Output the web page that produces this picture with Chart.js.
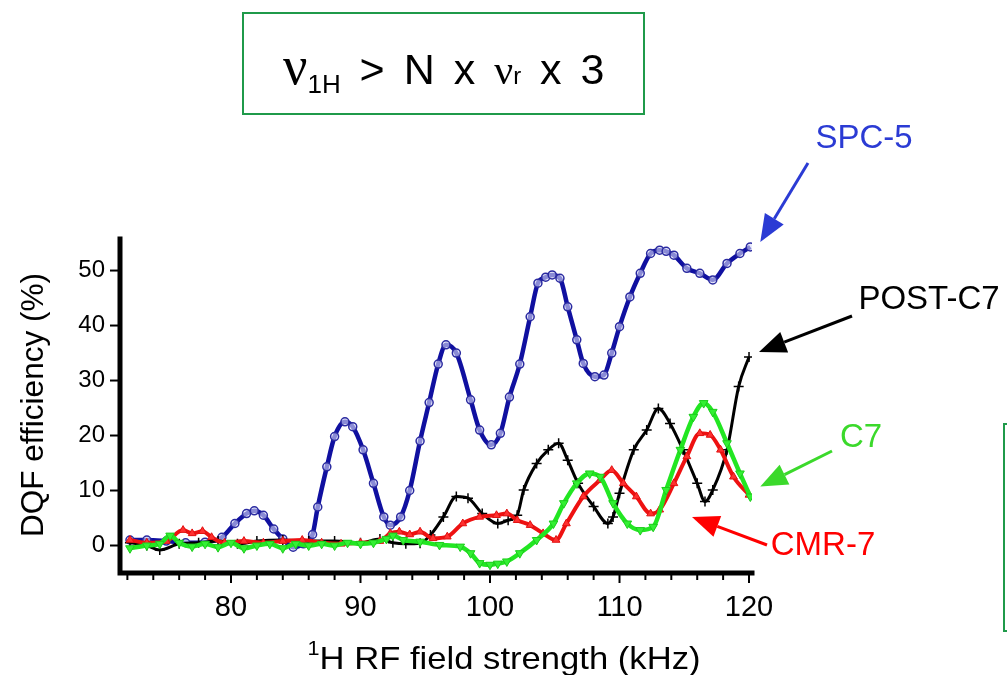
<!DOCTYPE html>
<html>
<head>
<meta charset="utf-8">
<script src="https://cdn.jsdelivr.net/npm/chart.js@4.4.1/dist/chart.umd.min.js"></script>
<style>
  body { margin: 0; background: #fff; }
  #wrap { position: relative; width: 1007px; height: 675px; }
  #title-box {
    position: absolute; left: 242px; top: 12px; width: 399px; height: 99px;
    border: 2px solid #1f9a4a;
  }
  #title-text {
    position: absolute; left: 283px; top: 39px; white-space: nowrap; line-height: 1;
    font-family: 'Liberation Sans', Arial, sans-serif; font-size: 43px; color: #000;
    word-spacing: 7px;
  }
  #title-text .nu { font-family: 'Liberation Serif', serif; }
  #title-text .sub { font-size: 26px; position: relative; top: 9px; }
  #side-box {
    position: absolute; left: 1003px; top: 423px; width: 20px; height: 205px;
    border: 2px solid #1f9a4a;
  }
</style>
</head>
<body>
<div id="wrap">
  <canvas id="chart"></canvas>
  <div id="title-box"></div>
  <div id="title-text"><span class="nu" style="font-size:54px">ν</span><span class="sub">1H</span> &gt; N x <span class="nu" style="font-size:42px">ν</span><span style="font-size:24px">r</span> x 3</div>
  <div id="side-box"></div>
</div>
<script>
// 1H RF field strength (kHz) and DQF efficiency (%) per sequence
const spcKHz = [72.2, 73.5, 75, 76.5, 78, 79.3, 80.3, 81.2, 81.8, 82.5, 83.3, 84, 84.8, 85.6, 86.3, 86.7, 87.4, 88, 88.8, 89.4, 90.2, 91, 91.8, 92.3, 93.1, 93.8, 94.6, 95.3, 96, 96.6, 97.4, 98.5, 99.2, 100.1, 100.8, 101.5, 102.3, 103.1, 103.7, 104.3, 104.8, 105.4, 106, 106.7, 107.2, 108.1, 108.8, 109.4, 110, 110.8, 111.6, 112.4, 113.1, 113.6, 114.2, 115.2, 116.2, 117.2, 118.3, 119.3, 120.1];
const spcEff = [1, 1, 0.8, 0.5, 0.6, 1.5, 4, 5.8, 6.3, 5.5, 3, 1.2, -0.3, 0.3, 2, 7, 14.3, 19.8, 22.5, 21.6, 17.4, 11.3, 5.2, 3.7, 5.2, 10, 19, 26, 33, 36.5, 35, 26.5, 21, 18.3, 20.4, 27, 33, 41.6, 47.7, 48.8, 49.2, 48.6, 43.4, 37.4, 33.1, 30.7, 31, 35, 39.8, 45.2, 49.5, 53.1, 53.7, 53.5, 52.8, 50.4, 49.5, 48.3, 51.3, 53.1, 54.3];

const postKHz = [72.2, 73.5, 74.5, 76, 77.5, 79, 80.5, 82, 84, 86, 88, 90, 91.5, 92.5, 93.5, 94.6, 95.4, 96.4, 97.4, 98.3, 99.4, 100.6, 101.4, 102.1, 102.6, 103.6, 104.5, 105.3, 106, 106.8, 108, 109.1, 109.5, 110, 111.1, 112.1, 113, 113.9, 114.9, 116, 116.6, 117.2, 118.3, 119.2, 120];
const postEff = [0.5, 0, -0.8, 0.3, 0.5, 0.8, 0.3, 0.8, 1, 0.8, 0.8, 0.5, 1.2, 0.5, 0.3, 0.4, 1.9, 5.2, 8.9, 8.6, 5.8, 4, 4.6, 5.5, 10.1, 14.9, 17.4, 18.6, 15.5, 11.3, 7.1, 4, 5.2, 9.5, 17.4, 21, 24.9, 22.2, 17.4, 11.3, 8, 10.1, 17.4, 28.9, 34.3];

const cmrKHz = [72.2, 73.5, 75, 76.3, 77, 77.8, 78.5, 79.5, 81, 82.5, 84, 85.5, 87, 88.5, 90, 91.5, 92.3, 93, 93.8, 94.6, 95.6, 96.7, 97.9, 99.2, 100.5, 101.3, 102.1, 103.1, 104.1, 105.1, 105.9, 107.2, 108.5, 109.4, 110.3, 111.3, 112.4, 113.1, 114.2, 115.2, 116.2, 117, 117.8, 118.8, 120];
const cmrEff = [1, 0.5, 0.8, 2.8, 2.2, 2.6, 1.5, 0.5, 0.8, 0.5, 0.8, 1, 0.5, 0.3, 0.5, 0.8, 2.2, 2.5, 2, 2.5, 1.3, 1.6, 4, 5.2, 5.5, 5.8, 4.6, 3.7, 2.2, 1, 4, 8.9, 11.9, 13.7, 11.3, 8.9, 5.8, 6.5, 11.3, 16.2, 20.4, 20.1, 17.4, 12.5, 9.2];

const c7KHz = [72.2, 73.5, 74.5, 75.3, 76, 77, 78, 79, 80, 81, 82, 83, 84, 85, 86, 87, 88, 89, 90, 91, 92, 92.5, 93.3, 94.6, 96.1, 97.7, 98.5, 99.2, 100, 100.6, 101.3, 102.3, 103.6, 104.9, 105.7, 106.7, 107.7, 108.5, 109.5, 110.6, 111.6, 112.6, 113.6, 114.7, 115.7, 116.5, 117.2, 118.3, 119.3, 120.1];
const c7Eff = [-0.5, 0, 0.3, 1.8, 0.5, -0.2, 0.3, -0.3, 0.5, -0.5, 0, 0.3, -0.5, 0.3, 0, 0.3, 0, 0.5, 0.3, 0.5, 1.2, 1.8, 1, 0.7, 0.1, -0.2, -1.4, -3.2, -3.5, -3.3, -2.9, -1.4, 1, 4, 7.7, 11.3, 13.1, 12.5, 7.7, 4, 2.8, 3.4, 10.1, 17.4, 23.4, 25.9, 24.3, 18.6, 13.1, 8.9];

const xTicks = [80, 90, 100, 110, 120];
const yTicks = [0, 10, 20, 30, 40, 50];

const toPoints = (xs, ys) => xs.map((v, i) => ({ x: v, y: ys[i] }));

const SANS = "'Liberation Sans', Arial, sans-serif";

function arrow(ctx, x1, y1, x2, y2, color) {
  const ang = Math.atan2(y2 - y1, x2 - x1);
  const len = 27, half = 11;
  const bx = x2 - len * Math.cos(ang), by = y2 - len * Math.sin(ang);
  ctx.strokeStyle = color; ctx.fillStyle = color; ctx.lineWidth = 3;
  ctx.beginPath(); ctx.moveTo(x1, y1); ctx.lineTo(bx, by); ctx.stroke();
  ctx.beginPath();
  ctx.moveTo(x2, y2);
  ctx.lineTo(bx + half * Math.sin(ang), by - half * Math.cos(ang));
  ctx.lineTo(bx - half * Math.sin(ang), by + half * Math.cos(ang));
  ctx.closePath(); ctx.fill();
}

// draws text scaled horizontally to a target width, centred on cx
function fitText(ctx, text, cx, cy, width) {
  const w = ctx.measureText(text).width;
  ctx.save();
  ctx.translate(cx, cy); ctx.scale(width / w, 1);
  ctx.fillText(text, 0, 0);
  ctx.restore();
}

const decorations = {
  id: 'decorations',
  afterDatasetsDraw(chart) {
    const { ctx, chartArea: a, scales: { x, y } } = chart;
    ctx.save();
    // axes
    ctx.strokeStyle = '#000'; ctx.lineWidth = 5; ctx.lineCap = 'square';
    ctx.beginPath();
    ctx.moveTo(a.left, a.top + 2); ctx.lineTo(a.left, a.bottom); ctx.lineTo(a.right, a.bottom);
    ctx.stroke();
    ctx.lineCap = 'butt'; ctx.lineWidth = 2;
    for (let v = 72; v <= 120; v += 2) {
      const px = x.getPixelForValue(v);
      const len = xTicks.includes(v) ? 10 : 7;
      ctx.beginPath(); ctx.moveTo(px, a.bottom); ctx.lineTo(px, a.bottom + len); ctx.stroke();
    }
    yTicks.forEach(v => {
      const py = y.getPixelForValue(v);
      ctx.beginPath(); ctx.moveTo(a.left, py); ctx.lineTo(a.left - 10, py); ctx.stroke();
    });

    // axis titles
    ctx.fillStyle = '#000';
    ctx.save();
    ctx.translate(34, 405); ctx.rotate(-Math.PI / 2);
    ctx.font = '31px ' + SANS; ctx.textAlign = 'center'; ctx.textBaseline = 'middle';
    fitText(ctx, 'DQF efficiency (%)', 0, 0, 264);
    ctx.restore();

    ctx.textBaseline = 'alphabetic'; ctx.textAlign = 'left';
    ctx.font = '32px ' + SANS;
    const rest = 'H RF field strength (kHz)';
    const wRest = ctx.measureText(rest).width;
    ctx.font = '20px ' + SANS;
    const wSup = ctx.measureText('1').width;
    const sx = 393 / (wRest + wSup);
    ctx.save();
    ctx.translate(504 - 393 / 2, 0); ctx.scale(sx, 1);
    ctx.fillText('1', 0, 655);
    ctx.font = '32px ' + SANS;
    ctx.fillText(rest, wSup, 669);
    ctx.restore();

    // series labels with arrows pointing at the curve ends
    const ends = chart.data.datasets.map(ds => {
      const p = ds.data[ds.data.length - 1];
      return { x: x.getPixelForValue(p.x), y: y.getPixelForValue(p.y) };
    });
    const [spcEnd, postEnd, cmrEnd, c7End] = ends;
    ctx.font = '33px ' + SANS; ctx.textAlign = 'center'; ctx.textBaseline = 'middle';

    ctx.fillStyle = '#2b3bd4'; ctx.fillText('SPC-5', 864, 139);
    arrow(ctx, 808, 163, spcEnd.x + 10, spcEnd.y - 5, '#2b3bd4');

    ctx.fillStyle = '#000'; ctx.fillText('POST-C7', 929, 300);
    arrow(ctx, 852, 316, postEnd.x + 10, postEnd.y - 5, '#000');

    ctx.fillStyle = '#3bd92b'; ctx.fillText('C7', 861, 438);
    arrow(ctx, 832, 451, c7End.x + 10, c7End.y - 10, '#3bd92b');

    ctx.fillStyle = '#ff0000'; ctx.fillText('CMR-7', 823, 546);
    arrow(ctx, 767, 545, cmrEnd.x - 57, cmrEnd.y + 22, '#ff0000');

    ctx.restore();
  }
};

new Chart(document.getElementById('chart'), {
  type: 'line',
  data: {
    datasets: [
      {
        label: 'SPC-5', data: toPoints(spcKHz, spcEff),
        borderColor: '#1010a0', borderWidth: 4.5,
        pointStyle: 'circle', pointRadius: 4, pointBorderWidth: 1.5,
        pointBorderColor: '#2a2aa0', pointBackgroundColor: 'rgba(220,222,250,0.6)',
        cubicInterpolationMode: 'monotone', order: 4
      },
      {
        label: 'POST-C7', data: toPoints(postKHz, postEff),
        borderColor: '#000', borderWidth: 3,
        pointStyle: 'cross', pointRadius: 5, pointBorderWidth: 1.5,
        pointBorderColor: '#000', pointBackgroundColor: '#000',
        cubicInterpolationMode: 'monotone', order: 3
      },
      {
        label: 'CMR-7', data: toPoints(cmrKHz, cmrEff),
        borderColor: '#ee1111', borderWidth: 4,
        pointStyle: 'triangle', pointRadius: 4.5, pointBorderWidth: 1,
        pointBorderColor: '#e01010', pointBackgroundColor: '#ff3030',
        cubicInterpolationMode: 'monotone', order: 2
      },
      {
        label: 'C7', data: toPoints(c7KHz, c7Eff),
        borderColor: '#22e622', borderWidth: 4.5,
        pointStyle: 'triangle', pointRotation: 180, pointRadius: 5, pointBorderWidth: 1,
        pointBorderColor: '#1ccc1c', pointBackgroundColor: '#33f033',
        cubicInterpolationMode: 'monotone', order: 1
      }
    ]
  },
  options: {
    responsive: true,
    maintainAspectRatio: false,
    animation: false,
    layout: { padding: { left: 0, top: 237, right: 255, bottom: 0 } },
    plugins: { legend: { display: false }, tooltip: { enabled: false } },
    scales: {
      x: {
        type: 'linear', min: 71.43, max: 120.23,
        afterFit: s => { s.height = 102; },
        grid: { display: false, tickLength: 10 },
        border: { display: false },
        afterBuildTicks: s => { s.ticks = xTicks.map(v => ({ value: v })); },
        ticks: {
          padding: 8, color: '#000', maxRotation: 0,
          font: { family: SANS, size: 29 }
        }
      },
      y: {
        min: -5, max: 56.1,
        afterFit: s => { s.width = 120; },
        grid: { display: false, tickLength: 10 },
        border: { display: false },
        afterBuildTicks: s => { s.ticks = yTicks.map(v => ({ value: v })); },
        ticks: {
          padding: 5, color: '#000',
          font: { family: SANS, size: 24 }
        }
      }
    }
  },
  plugins: [decorations]
});
</script>
</body>
</html>
